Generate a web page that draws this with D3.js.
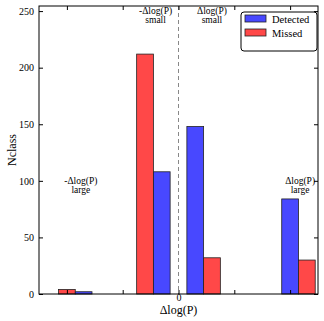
<!DOCTYPE html>
<html>
<head>
<meta charset="utf-8">
<script src="https://cdn.jsdelivr.net/npm/d3@7"></script>
<style>
  body { margin: 0; background: #fff; }
  text { font-family: "Liberation Serif", "DejaVu Serif", serif; fill: #000; }
</style>
</head>
<body>
<div id="chart"></div>
<script>
// bar groups along the Δlog(P) axis
const groups = ['-large', '-small', '+small', '+large'];
const groupLeft = [-2.15, -0.75, 0.15, 1.85];   // left edge of first bar in pair
const firstSeries = ['Missed', 'Missed', 'Detected', 'Detected'];
const detected = [2, 108, 148, 84];
const missed = [4, 212, 32, 30];
const yTicks = [0, 50, 100, 150, 200, 250];
const xTicks = [-2, -1, 0, 1, 2];
const annotations = [
  { x: -1.75, y: 101, lines: ['-\u0394log(P)', 'large'] },
  { x: -0.41, y: 251, lines: ['-\u0394log(P)', 'small'] },
  { x: 0.6, y: 251, lines: ['\u0394log(P)', 'small'] },
  { x: 2.18, y: 101, lines: ['\u0394log(P)', 'large'] }
];

const config = {
  width: 324, height: 321,
  margin: { top: 6, right: 6, bottom: 27, left: 39 },
  barWidth: 0.3
};
const colors = { Detected: '#4848ff', Missed: '#ff4848' };

const width = config.width - config.margin.left - config.margin.right;
const height = config.height - config.margin.top - config.margin.bottom;

const svg = d3.select('#chart').append('svg')
  .attr('width', config.width)
  .attr('height', config.height);

const chart = svg.append('g')
  .attr('transform', `translate(${config.margin.left},${config.margin.top})`);

const xScale = d3.scaleLinear().domain([-2.5, 2.5]).range([0, width]);
const yScale = d3.scaleLinear().domain([0, 254.5]).range([height, 0]);

// build bar records
const bars = [];
groups.forEach((g, i) => {
  const order = firstSeries[i] === 'Missed' ? ['Missed', 'Detected'] : ['Detected', 'Missed'];
  order.forEach((s, j) => {
    bars.push({
      series: s,
      x0: groupLeft[i] + j * config.barWidth,
      value: s === 'Detected' ? detected[i] : missed[i]
    });
  });
});

// dashed line at zero
chart.append('line')
  .attr('x1', xScale(0)).attr('x2', xScale(0))
  .attr('y1', 0).attr('y2', height)
  .attr('stroke', '#888')
  .attr('stroke-width', 1)
  .attr('stroke-dasharray', '4,3');

chart.selectAll('rect.bar')
  .data(bars)
  .join('rect')
  .attr('class', 'bar')
  .attr('x', d => xScale(d.x0))
  .attr('width', d => xScale(d.x0 + config.barWidth) - xScale(d.x0))
  .attr('y', d => yScale(d.value))
  .attr('height', d => height - yScale(d.value))
  .attr('fill', d => colors[d.series])
  .attr('stroke', '#222')
  .attr('stroke-width', 0.8);

// axes: inward ticks on all four sides
const tickLen = 4;
const yAxisL = d3.axisLeft(yScale).tickValues(yTicks).tickSize(-tickLen).tickPadding(5);
const yAxisR = d3.axisRight(yScale).tickValues(yTicks).tickSize(-tickLen).tickFormat('');
const xAxisB = d3.axisBottom(xScale).tickValues(xTicks).tickSize(-tickLen).tickPadding(0)
  .tickFormat(d => d === 0 ? '0' : '');
const xAxisT = d3.axisTop(xScale).tickValues(xTicks).tickSize(-tickLen).tickFormat('');

function styleAxis(g) {
  g.select('.domain').remove();
  g.selectAll('.tick line').attr('stroke', '#000');
  g.selectAll('.tick text')
    .style('font-family', '"Liberation Serif", serif')
    .style('font-size', '10px');
}

chart.append('g').call(yAxisL).call(styleAxis);
chart.append('g').attr('transform', `translate(${width},0)`).call(yAxisR).call(styleAxis);
chart.append('g').attr('transform', `translate(0,${height})`).call(xAxisB).call(styleAxis);
chart.append('g').call(xAxisT).call(styleAxis);

chart.append('rect')
  .attr('x', 0).attr('y', 0)
  .attr('width', width).attr('height', height)
  .attr('fill', 'none')
  .attr('stroke', '#000')
  .attr('stroke-width', 1);

// annotations
annotations.forEach(a => {
  const t = chart.append('text')
    .attr('text-anchor', 'middle')
    .style('font-size', '9.5px');
  a.lines.forEach((l, i) => {
    t.append('tspan')
      .attr('x', xScale(a.x))
      .attr('y', yScale(a.y) + 4 + i * 9)
      .text(l);
  });
});

// axis titles
svg.append('text')
  .attr('x', config.margin.left + xScale(0))
  .attr('y', 314)
  .attr('text-anchor', 'middle')
  .style('font-size', '12px')
  .text('\u0394log(P)');

svg.append('text')
  .attr('transform', `translate(16,${config.margin.top + height / 2}) rotate(-90)`)
  .attr('text-anchor', 'middle')
  .style('font-size', '12px')
  .text('Nclass');

// legend
const legend = svg.append('g').attr('transform', 'translate(241,12)');
legend.append('rect')
  .attr('width', 76).attr('height', 39)
  .attr('rx', 3)
  .attr('fill', '#fff')
  .attr('stroke', '#000')
  .attr('stroke-width', 1);
['Detected', 'Missed'].forEach((s, i) => {
  legend.append('rect')
    .attr('x', 4).attr('y', 3 + i * 14)
    .attr('width', 21).attr('height', 7)
    .attr('fill', colors[s])
    .attr('stroke', '#222')
    .attr('stroke-width', 0.8);
  legend.append('text')
    .attr('x', 31).attr('y', 10.5 + i * 14)
    .style('font-size', '10.5px')
    .text(s);
});
</script>
</body>
</html>
